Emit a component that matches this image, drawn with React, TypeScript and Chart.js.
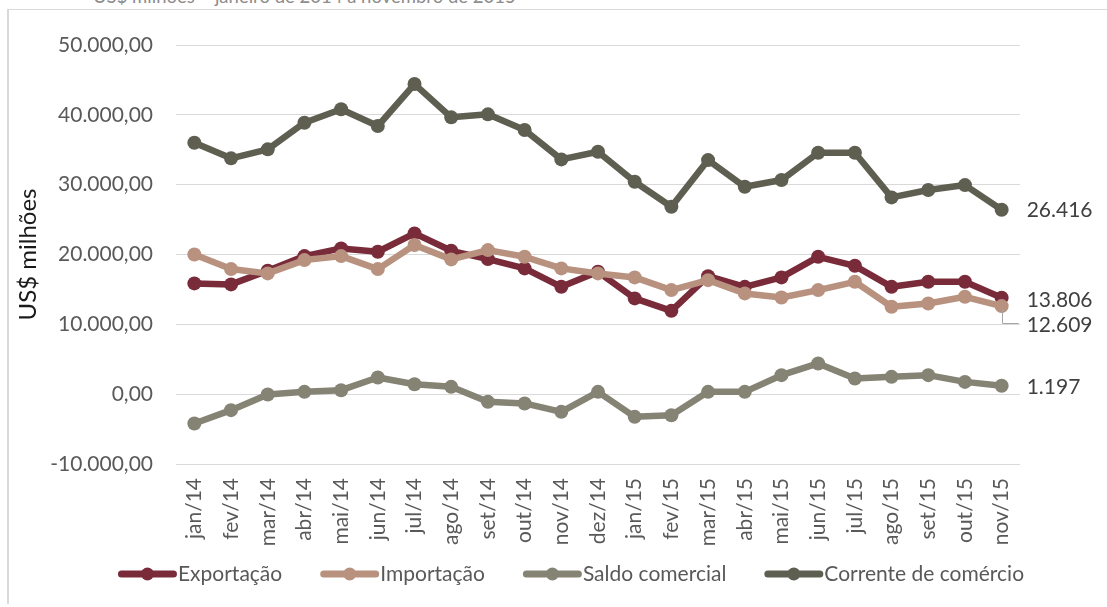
import React, { useEffect, useRef } from "react";
import { Chart, registerables } from "chart.js";

Chart.register(...registerables);

const categories = [
  "jan/14", "fev/14", "mar/14", "abr/14", "mai/14", "jun/14", "jul/14", "ago/14",
  "set/14", "out/14", "nov/14", "dez/14", "jan/15", "fev/15", "mar/15", "abr/15",
  "mai/15", "jun/15", "jul/15", "ago/15", "set/15", "out/15", "nov/15",
];

const exportacao = [
  15860, 15720, 17670, 19770, 20870, 20390, 23020, 20530, 19340, 18010, 15370, 17520,
  13710, 11930, 16900, 15370, 16720, 19670, 18380, 15370, 16090, 16090, 13806,
];
const importacao = [
  20010, 17910, 17290, 19200, 19770, 17910, 21350, 19300, 20630, 19670, 18010, 17290,
  16720, 14900, 16330, 14430, 13850, 14900, 16090, 12510, 12990, 13940, 12609,
];
const saldoComercial = [
  -4200, -2290, -50, 330, 570, 2390, 1430, 1050, -1100, -1330, -2530, 330,
  -3250, -3010, 330, 330, 2720, 4400, 2250, 2480, 2720, 1760, 1197,
];
const correnteComercio = [
  36000, 33770, 35060, 38870, 40790, 38400, 44410, 39640, 40070, 37820, 33620, 34710,
  30420, 26840, 33520, 29700, 30660, 34570, 34570, 28180, 29230, 29940, 26416,
];

const seriesNames = ["Exportação", "Importação", "Saldo comercial", "Corrente de comércio"];
const seriesColors = ["#792B3A", "#B8917F", "#858374", "#5E5F51"];
const endLabelOffsets = [2, 19, 1, 1];

const yMin = -10000;
const yMax = 50000;
const yStep = 10000;

const FONT = "Lato, 'Open Sans', sans-serif";

function groupThousands(n: number): string {
  const s = Math.abs(Math.round(n)).toString();
  return (n < 0 ? "-" : "") + s.replace(/\B(?=(\d{3})+(?!\d))/g, ".");
}
function fmtTick(v: number): string {
  return groupThousands(v) + ",00";
}

const endLabelsPlugin = {
  id: "endLabels",
  afterDatasetsDraw(chart: any) {
    const ctx = chart.ctx;
    ctx.save();
    ctx.font = `21px ${FONT}`;
    ctx.fillStyle = "#404040";
    ctx.textBaseline = "middle";
    ctx.textAlign = "left";
    chart.data.datasets.forEach((ds: any, i: number) => {
      const meta = chart.getDatasetMeta(i);
      const pt = meta.data[meta.data.length - 1];
      if (!pt) return;
      const v = ds.data[ds.data.length - 1];
      const ly = pt.y + endLabelOffsets[i];
      if (endLabelOffsets[i] > 8) {
        ctx.strokeStyle = "#A6A6A6";
        ctx.lineWidth = 1;
        ctx.beginPath();
        ctx.moveTo(Math.round(pt.x) + 0.5, pt.y + 3);
        ctx.lineTo(Math.round(pt.x) + 0.5, Math.round(ly) - 1.5);
        ctx.lineTo(pt.x + 17, Math.round(ly) - 1.5);
        ctx.stroke();
      }
      ctx.fillText(groupThousands(v), pt.x + 25, ly);
    });
    ctx.restore();
  },
};

const customLegendPlugin = {
  id: "customLegend",
  afterDraw(chart: any) {
    const ctx = chart.ctx;
    ctx.save();
    ctx.font = `21px ${FONT}`;
    ctx.textBaseline = "middle";
    ctx.textAlign = "left";
    const y = 574;
    const sampleW = 59;
    const gap = 38;
    const widths = chart.data.datasets.map((ds: any) => ctx.measureText(ds.label).width);
    const total =
      widths.reduce((a: number, b: number) => a + b, 0) +
      chart.data.datasets.length * (sampleW + 1) +
      gap * (chart.data.datasets.length - 1);
    let x = 571 - total / 2;
    chart.data.datasets.forEach((ds: any, i: number) => {
      const c = ds.borderColor;
      ctx.strokeStyle = c;
      ctx.lineWidth = 7;
      ctx.lineCap = "round";
      ctx.beginPath();
      ctx.moveTo(x + 3.5, y);
      ctx.lineTo(x + sampleW - 3.5, y);
      ctx.stroke();
      ctx.fillStyle = c;
      ctx.beginPath();
      ctx.arc(x + sampleW / 2, y, 6.5, 0, Math.PI * 2);
      ctx.fill();
      ctx.fillStyle = "#595959";
      ctx.fillText(ds.label, x + sampleW + 1, y);
      x += sampleW + 1 + widths[i] + gap;
    });
    ctx.restore();
  },
};

export default function App() {
  const canvasRef = useRef<HTMLCanvasElement | null>(null);

  useEffect(() => {
    if (!canvasRef.current) return;
    const seriesData = [exportacao, importacao, saldoComercial, correnteComercio];
    const chart = new Chart(canvasRef.current, {
      type: "line",
      data: {
        labels: categories,
        datasets: seriesData.map((d, i) => ({
          label: seriesNames[i],
          data: d,
          borderColor: seriesColors[i],
          backgroundColor: seriesColors[i],
          pointBackgroundColor: seriesColors[i],
          pointBorderColor: seriesColors[i],
          pointBorderWidth: 0,
          pointRadius: 7,
          borderWidth: 6.5,
          borderJoinStyle: "round" as const,
          tension: 0,
          fill: false,
          order: 4 - i,
        })),
      },
      options: {
        responsive: false,
        animation: false,
        devicePixelRatio: 1,
        layout: { padding: { left: 12, top: 45, right: 87, bottom: 53 } },
        plugins: {
          legend: { display: false },
          tooltip: { enabled: false },
          title: { display: false },
        },
        scales: {
          x: {
            type: "category",
            offset: true,
            grid: { display: false, drawTicks: false },
            border: { display: false },
            ticks: {
              minRotation: 90,
              maxRotation: 90,
              padding: 14,
              color: "#595959",
              font: { family: FONT, size: 21 },
              autoSkip: false,
            },
            afterFit: (scale: any) => {
              scale.height = 90;
            },
          },
          y: {
            min: yMin,
            max: yMax,
            grid: { color: "#D9D9D9", lineWidth: 1, drawTicks: false },
            border: { display: false },
            ticks: {
              stepSize: yStep,
              padding: 23,
              color: "#595959",
              font: { family: FONT, size: 21 },
              callback: (v: any) => fmtTick(Number(v)),
            },
            title: {
              display: true,
              text: "US$ milhões",
              color: "#1A1A1A",
              font: { family: FONT, size: 24 },
              padding: { top: 2, bottom: 0 },
            },
            afterFit: (scale: any) => {
              scale.width = 164;
            },
          },
        },
      },
      plugins: [endLabelsPlugin, customLegendPlugin],
    });
    return () => chart.destroy();
  }, []);

  return (
    <div
      style={{
        position: "fixed",
        left: 0,
        top: 0,
        width: 1107,
        height: 607,
        overflow: "hidden",
        background: "#FFFFFF",
      }}
    >
      <div
        style={{
          position: "absolute",
          left: 93,
          top: -13,
          fontFamily: FONT,
          fontSize: 18.5,
          lineHeight: 1,
          color: "#8C8C8C",
          whiteSpace: "nowrap",
        }}
      >
        US$ milhões – janeiro de 2014 a novembro de 2015
      </div>
      <div
        style={{
          position: "absolute",
          left: 7,
          top: 9,
          width: 1120,
          height: 594,
          borderTop: "1px solid #D9D9D9",
          borderLeft: "2px solid #D9D9D9",
        }}
      />
      <canvas
        ref={canvasRef}
        width={1107}
        height={607}
        style={{ position: "absolute", left: 0, top: 0, display: "block" }}
      />
    </div>
  );
}
